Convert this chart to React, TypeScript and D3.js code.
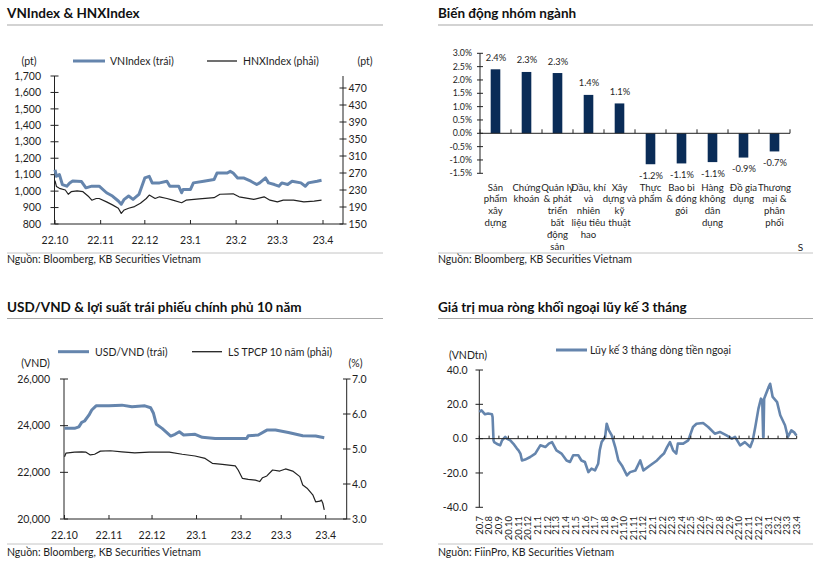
import React from 'react';
import * as d3 from 'd3';

const FONT = "Lato, 'Open Sans', 'DejaVu Sans', sans-serif";
const BLUE = '#6585ad';
const NAVY = '#0a2c57';
const INK = '#1e1e1e';

// ---------- Panel 1: VNIndex & HNXIndex ----------
const vnDates = ['2022-10-01','2022-10-02','2022-10-04','2022-10-06','2022-10-09','2022-10-11','2022-10-13','2022-10-19','2022-10-22','2022-10-26','2022-10-31','2022-11-05','2022-11-09','2022-11-13','2022-11-15','2022-11-17','2022-11-20','2022-11-23','2022-11-27','2022-11-29','2022-12-01','2022-12-04','2022-12-06','2022-12-11','2022-12-16','2022-12-18','2022-12-24','2022-12-26','2022-12-27','2023-01-01','2023-01-03','2023-01-10','2023-01-17','2023-01-19','2023-01-26','2023-01-28','2023-01-30','2023-02-02','2023-02-06','2023-02-11','2023-02-15','2023-02-17','2023-02-21','2023-02-23','2023-02-27','2023-03-02','2023-03-04','2023-03-08','2023-03-11','2023-03-17','2023-03-20','2023-03-22','2023-03-28','2023-03-31'];
const vnValues = [1130,1090,1100,1040,1030,1050,1062,1058,1020,1030,1030,990,970,940,920,950,970,950,980,1030,1080,1090,1050,1050,1060,1030,1030,990,1010,1010,1050,1060,1070,1110,1110,1120,1110,1080,1080,1060,1040,1050,1080,1050,1040,1030,1050,1040,1060,1050,1030,1050,1060,1066];
const hnxDates = ['2022-10-01','2022-10-02','2022-10-04','2022-10-08','2022-10-10','2022-10-12','2022-10-16','2022-10-20','2022-10-24','2022-10-26','2022-10-29','2022-10-31','2022-11-05','2022-11-09','2022-11-13','2022-11-15','2022-11-17','2022-11-20','2022-11-24','2022-11-28','2022-12-02','2022-12-04','2022-12-08','2022-12-11','2022-12-16','2022-12-20','2022-12-26','2022-12-29','2023-01-07','2023-01-17','2023-01-21','2023-01-30','2023-02-03','2023-02-13','2023-02-20','2023-02-24','2023-03-01','2023-03-05','2023-03-12','2023-03-19','2023-03-26','2023-03-31'];
const hnxValues = [252,238,234,230,220,226,228,226,214,206,210,210,202,195,187,175,183,187,191,199,210,218,210,214,210,206,200,206,209,212,220,221,214,208,214,206,202,206,206,202,204,206];
const p1LeftTicks = [800,900,1000,1100,1200,1300,1400,1500,1600,1700];
const p1RightTicks = [150,190,230,270,310,350,390,430,470];
const monthLabels6 = ['22.10','22.11','22.12','23.1','23.2','23.3','23.4'];

// ---------- Panel 2: Biến động nhóm ngành ----------
const sectorNames = ['Sản\nphẩm\nxây\ndựng','Chứng\nkhoán','Quản lý\n& phát\ntriển\nbất\nđộng\nsản','Dầu, khí\nvà\nnhiên\nliệu tiêu\nhao','Xây\ndựng và\nkỹ\nthuật','Thực\nphẩm','Bao bì\n& đóng\ngói','Hàng\nkhông\ndân\ndụng','Đồ gia\ndụng','Thương\nmại &\nphân\nphối'];
const sectorValues = [2.40,2.30,2.26,1.44,1.12,-1.16,-1.13,-1.08,-0.91,-0.68];
const sectorTicks = [-1.5,-1.0,-0.5,0.0,0.5,1.0,1.5,2.0,2.5,3.0];

// ---------- Panel 3: USD/VND & bond yield ----------
const usdDates = ['2022-10-01','2022-10-08','2022-10-11','2022-10-13','2022-10-15','2022-10-18','2022-10-20','2022-10-23','2022-11-01','2022-11-10','2022-11-17','2022-11-26','2022-11-30','2022-12-02','2022-12-04','2022-12-08','2022-12-14','2022-12-17','2022-12-20','2022-12-23','2022-12-31','2023-01-05','2023-01-14','2023-02-05','2023-02-06','2023-02-13','2023-02-19','2023-02-25','2023-03-06','2023-03-16','2023-03-25','2023-03-31'];
const usdValues = [23885,23885,23950,24140,24200,24450,24670,24850,24850,24880,24810,24850,24770,24530,24060,23885,23555,23630,23740,23600,23630,23500,23455,23455,23570,23600,23810,23810,23710,23570,23555,23480];
const bondDates = ['2022-10-01','2022-10-02','2022-10-08','2022-10-13','2022-10-16','2022-10-19','2022-10-22','2022-10-26','2022-11-02','2022-11-10','2022-11-19','2022-11-29','2022-12-13','2022-12-22','2022-12-31','2023-01-07','2023-01-12','2023-01-19','2023-01-28','2023-01-30','2023-02-02','2023-02-06','2023-02-11','2023-02-14','2023-02-16','2023-02-19','2023-02-23','2023-02-28','2023-03-04','2023-03-09','2023-03-14','2023-03-16','2023-03-19','2023-03-23','2023-03-25','2023-03-28','2023-03-29','2023-03-30','2023-03-31'];
const bondValues = [4.78,4.88,4.91,4.92,4.91,4.83,4.85,4.94,4.95,4.92,4.89,4.91,4.91,4.85,4.80,4.73,4.59,4.56,4.52,4.40,4.16,4.13,4.11,4.07,4.18,4.23,4.40,4.37,4.43,4.37,4.21,3.97,3.88,3.69,3.49,3.51,3.54,3.45,3.26];
const p3LeftTicks = [20000,22000,24000,26000];
const p3RightTicks = [3.0,4.0,5.0,6.0,7.0];

// ---------- Panel 4: foreign net buying ----------
const flowDates = ['2020-07-01','2020-07-08','2020-07-19','2020-07-29','2020-08-10','2020-08-12','2020-08-15','2020-08-17','2020-08-25','2020-09-05','2020-09-11','2020-09-21','2020-09-26','2020-10-07','2020-10-17','2020-10-28','2020-11-02','2020-11-08','2020-11-13','2020-11-23','2020-12-09','2020-12-25','2021-01-10','2021-01-26','2021-02-06','2021-02-16','2021-03-02','2021-03-18','2021-04-03','2021-04-14','2021-04-24','2021-05-10','2021-05-20','2021-05-31','2021-06-11','2021-06-21','2021-07-02','2021-07-12','2021-07-17','2021-07-23','2021-08-03','2021-08-08','2021-08-15','2021-08-24','2021-09-04','2021-09-14','2021-09-25','2021-10-11','2021-10-21','2021-11-07','2021-11-22','2021-12-02','2021-12-23','2022-01-14','2022-01-24','2022-02-05','2022-02-15','2022-02-24','2022-03-06','2022-03-16','2022-03-21','2022-04-07','2022-04-23','2022-05-08','2022-05-19','2022-06-09','2022-06-25','2022-07-16','2022-08-01','2022-08-22','2022-09-08','2022-09-18','2022-10-04','2022-10-19','2022-11-05','2022-11-13','2022-11-21','2022-12-01','2022-12-09','2022-12-13','2022-12-16','2022-12-17','2022-12-19','2023-01-02','2023-01-07','2023-01-15','2023-01-29','2023-02-08','2023-02-23','2023-03-04','2023-03-15','2023-03-25','2023-03-31'];
const flowValues = [15.5,16.5,14.2,14.6,14.2,12.6,-1,-2,-3,-3.9,-1,1,0,-1,-3,-5.8,-6.8,-8.7,-12.7,-12.2,-10.7,-8.7,-3.9,-4.9,-2.9,-2,-6.8,-8.7,-12.7,-13.6,-9.7,-9.7,-12.7,-13.6,-19.5,-17.5,-18.5,-14.6,-6.8,-2,1,8.7,4.8,1.9,-4.9,-12.7,-15.6,-21.4,-19.5,-18.5,-12.7,-18.5,-15.6,-12.7,-10.7,-8.7,-4.9,-2,-6.8,-8.7,-2.9,-2.9,-1,6.8,8.7,9.1,6.8,2.9,3.9,1.9,0,1,-3.9,-2,-4.9,-1,6.8,17.5,23.3,22.3,1,1,23.3,30,32,24.3,21.3,13.6,7.8,1,4.8,3.5,1.9];
const flowTicks = [-40,-20,0,20,40];
const flowMonthLabels = ['20.7','20.8','20.9','20.10','20.11','20.12','21.1','21.2','21.3','21.4','21.5','21.6','21.7','21.8','21.9','21.10','21.11','21.12','22.1','22.2','22.3','22.4','22.5','22.6','22.7','22.8','22.9','22.10','22.11','22.12','23.1','23.2','23.3','23.4'];

const parse = d3.timeParse('%Y-%m-%d');
const monthOf = (lbl: string) => {
  const [y, m] = lbl.split('.').map(Number);
  return new Date(2000 + y, m - 1, 1);
};

const T = (props: any) => <text fontFamily={FONT} fill={INK} {...props} />;

function Frame({ x0, x1, title, source, titleY, lineY, srcLineY, srcY }: any) {
  return (
    <g>
      <T x={x0} y={titleY} fontSize={13.5} fontWeight={700} fill="#111">{title}</T>
      <line x1={x0} x2={x1} y1={lineY} y2={lineY} stroke="#a8a8a8" strokeWidth={1.2} />
      <line x1={x0} x2={x1} y1={srcLineY} y2={srcLineY} stroke="#c4c4c4" strokeWidth={1} />
      <T x={x0} y={srcY} fontSize={10.5}>{source}</T>
    </g>
  );
}

export default function App() {
  // Panel 1 scales
  const x1 = d3.scaleTime().domain([monthOf('22.10'), monthOf('23.4')]).range([55, 323]);
  const y1L = d3.scaleLinear().domain([800, 1700]).range([224, 76]);
  const y1R = d3.scaleLinear().domain([150, 470]).range([224, 88]);
  const vnPath = d3.line<number>().x((_, i) => x1(parse(vnDates[i])!)).y(d => y1L(d))(vnValues)!;
  const hnxPath = d3.line<number>().x((_, i) => x1(parse(hnxDates[i])!)).y(d => y1R(d))(hnxValues)!;

  // Panel 2 scales
  const xb = d3.scaleBand<string>().domain(sectorNames).range([480, 790]).paddingInner(0).paddingOuter(0);
  const yb = d3.scaleLinear().domain([-1.5, 3.0]).range([173.3, 53.3]);
  const barW = xb.bandwidth() * 0.31;

  // Panel 3 scales
  const x3 = d3.scaleTime().domain([monthOf('22.10'), monthOf('23.4')]).range([64.5, 325.7]);
  const y3L = d3.scaleLinear().domain([20000, 26000]).range([519, 379]);
  const y3R = d3.scaleLinear().domain([3, 7]).range([519, 379]);
  const usdPath = d3.line<number>().x((_, i) => x3(parse(usdDates[i])!)).y(d => y3L(d))(usdValues)!;
  const bondPath = d3.line<number>().x((_, i) => x3(parse(bondDates[i])!)).y(d => y3R(d))(bondValues)!;

  // Panel 4 scales
  const x4 = d3.scaleTime().domain([monthOf('20.7'), monthOf('23.4')]).range([479.3, 796.7]);
  const y4 = d3.scaleLinear().domain([-40, 40]).range([507.3, 370]);
  const flowPath = d3.line<number>().x((_, i) => x4(parse(flowDates[i])!)).y(d => y4(d))(flowValues)!;

  const fmtComma = d3.format(',');

  return (
    <svg width={823} height={563} style={{ position: 'absolute', left: 0, top: 0, background: '#fff' }}>
      <rect x={0} y={0} width={823} height={563} fill="#fff" />

      {/* ===== Panel 1 ===== */}
      <Frame x0={7} x1={383} title="VNIndex & HNXIndex" source="Nguồn: Bloomberg, KB Securities Vietnam" titleY={18} lineY={25} srcLineY={253} srcY={263} />
      <line x1={73} x2={105} y1={61} y2={61} stroke={BLUE} strokeWidth={3} />
      <T x={110} y={64.5} fontSize={10.5}>VNIndex (trái)</T>
      <line x1={207} x2={237} y1={61} y2={61} stroke="#222" strokeWidth={1.3} />
      <T x={243} y={64.5} fontSize={10.5}>HNXIndex (phải)</T>
      <T x={29} y={65} fontSize={10.5} textAnchor="middle">(pt)</T>
      <T x={365} y={65} fontSize={10.5} textAnchor="middle">(pt)</T>
      <line x1={54.5} x2={54.5} y1={76} y2={224} stroke="#222" />
      <line x1={343} x2={343} y1={76} y2={224} stroke="#222" />
      <line x1={54.5} x2={343} y1={224} y2={224} stroke="#222" />
      {p1LeftTicks.map(t => (
        <g key={'l1' + t}>
          <line x1={50.5} x2={58.5} y1={y1L(t)} y2={y1L(t)} stroke="#222" />
          <T x={41} y={y1L(t)} dy="0.35em" fontSize={10.5} textAnchor="end">{fmtComma(t)}</T>
        </g>
      ))}
      {p1RightTicks.map(t => (
        <g key={'r1' + t}>
          <line x1={339.5} x2={346.5} y1={y1R(t)} y2={y1R(t)} stroke="#222" />
          <T x={348.5} y={y1R(t)} dy="0.35em" fontSize={10.5}>{t}</T>
        </g>
      ))}
      {monthLabels6.map(m => (
        <g key={'m1' + m}>
          <line x1={x1(monthOf(m))} x2={x1(monthOf(m))} y1={220} y2={224} stroke="#222" />
          <T x={x1(monthOf(m))} y={244} fontSize={10.5} textAnchor="middle">{m}</T>
        </g>
      ))}
      <path d={vnPath} fill="none" stroke={BLUE} strokeWidth={3} strokeLinejoin="round" />
      <path d={hnxPath} fill="none" stroke="#222" strokeWidth={1.2} strokeLinejoin="round" />

      {/* ===== Panel 2 ===== */}
      <Frame x0={438} x1={813} title="Biến động nhóm ngành" source="Nguồn: Bloomberg, KB Securities Vietnam" titleY={18} lineY={25} srcLineY={253} srcY={263} />
      <line x1={480} x2={480} y1={53.3} y2={173.3} stroke="#222" />
      {sectorTicks.map(t => (
        <g key={'b' + t}>
          <line x1={477} x2={483} y1={yb(t)} y2={yb(t)} stroke="#222" />
          <T x={472} y={yb(t)} dy="0.35em" fontSize={8.8} textAnchor="end">{t.toFixed(1) + '%'}</T>
        </g>
      ))}
      {sectorNames.map((s, i) => {
        const v = sectorValues[i];
        const cx = xb(s)! + xb.bandwidth() / 2;
        return (
          <g key={'bar' + i}>
            <rect x={cx - barW / 2} width={barW} y={yb(Math.max(0, v))} height={Math.abs(yb(v) - yb(0))} fill={NAVY} />
            <T x={cx + 0.5} y={v >= 0 ? yb(v) - 8.5 : yb(v) + 14.5} fontSize={9.3} textAnchor="middle">{v.toFixed(1) + '%'}</T>
            {s.split('\n').map((ln, j) => (
              <T key={j} x={cx} y={190.5 + j * 11.8} fontSize={9.6} textAnchor="middle">{ln}</T>
            ))}
          </g>
        );
      })}
      <line x1={480} x2={790} y1={yb(0)} y2={yb(0)} stroke="#222" />
      {[...sectorNames.map(s => xb(s)!), 790].map((bx, i) => (
        <line key={'bt' + i} x1={bx} x2={bx} y1={yb(0) - 4} y2={yb(0)} stroke="#222" />
      ))}
      <T x={800.5} y={251} fontSize={10} textAnchor="middle">S</T>

      {/* ===== Panel 3 ===== */}
      <Frame x0={7} x1={383} title="USD/VND & lợi suất trái phiếu chính phủ 10 năm" source="Nguồn: Bloomberg, KB Securities Vietnam" titleY={312} lineY={318.5} srcLineY={544} srcY={556} />
      <line x1={58} x2={89} y1={351.7} y2={351.7} stroke={BLUE} strokeWidth={3} />
      <T x={95} y={355.5} fontSize={10.5}>USD/VND (trái)</T>
      <line x1={192} x2={222} y1={351.7} y2={351.7} stroke="#222" strokeWidth={1.3} />
      <T x={228} y={355.5} fontSize={10.5}>LS TPCP 10 năm (phải)</T>
      <T x={35.5} y={367} fontSize={10.5} textAnchor="middle">(VND)</T>
      <T x={355.5} y={367} fontSize={10.5} textAnchor="middle">(%)</T>
      <line x1={64} x2={64} y1={379} y2={519} stroke="#222" />
      <line x1={346.7} x2={346.7} y1={379} y2={519} stroke="#222" />
      <line x1={64} x2={346.7} y1={519} y2={519} stroke="#222" />
      {p3LeftTicks.map(t => (
        <g key={'l3' + t}>
          <line x1={60} x2={68} y1={y3L(t)} y2={y3L(t)} stroke="#222" />
          <T x={50} y={y3L(t)} dy="0.35em" fontSize={10.5} textAnchor="end">{fmtComma(t)}</T>
        </g>
      ))}
      {p3RightTicks.map(t => (
        <g key={'r3' + t}>
          <line x1={343} x2={350.5} y1={y3R(t)} y2={y3R(t)} stroke="#222" />
          <T x={352} y={y3R(t)} dy="0.35em" fontSize={10.5}>{t.toFixed(1)}</T>
        </g>
      ))}
      {monthLabels6.map(m => (
        <g key={'m3' + m}>
          <line x1={x3(monthOf(m))} x2={x3(monthOf(m))} y1={515} y2={519} stroke="#222" />
          <T x={x3(monthOf(m))} y={539} fontSize={10.5} textAnchor="middle">{m}</T>
        </g>
      ))}
      <path d={usdPath} fill="none" stroke={BLUE} strokeWidth={3} strokeLinejoin="round" />
      <path d={bondPath} fill="none" stroke="#222" strokeWidth={1.2} strokeLinejoin="round" />

      {/* ===== Panel 4 ===== */}
      <Frame x0={438} x1={813} title="Giá trị mua ròng khối ngoại lũy kế 3 tháng" source="Nguồn: FiinPro, KB Securities Vietnam" titleY={312} lineY={318.5} srcLineY={544} srcY={556} />
      <line x1={556} x2={587} y1={350} y2={350} stroke={BLUE} strokeWidth={3} />
      <T x={590} y={354} fontSize={10.5}>Lũy kế 3 tháng dòng tiền ngoại</T>
      <T x={468} y={359} fontSize={10.5} textAnchor="middle">(VNDtn)</T>
      <line x1={479.3} x2={479.3} y1={370} y2={507.3} stroke="#222" />
      {flowTicks.map(t => (
        <g key={'f' + t}>
          <line x1={475.5} x2={483} y1={y4(t)} y2={y4(t)} stroke="#222" />
          <T x={467.5} y={y4(t)} dy="0.35em" fontSize={10.5} textAnchor="end">{t.toFixed(1)}</T>
        </g>
      ))}
      <path d={flowPath} fill="none" stroke={BLUE} strokeWidth={2.6} strokeLinejoin="round" />
      <line x1={479.3} x2={796.7} y1={y4(0)} y2={y4(0)} stroke="#222" />
      {flowMonthLabels.map(m => (
        <g key={'m4' + m}>
          <line x1={x4(monthOf(m))} x2={x4(monthOf(m))} y1={y4(0) - 3} y2={y4(0)} stroke="#222" />
          <T transform={`translate(${x4(monthOf(m))},516) rotate(-90)`} dy="0.35em" fontSize={9.5} textAnchor="end">{m}</T>
        </g>
      ))}
    </svg>
  );
}
